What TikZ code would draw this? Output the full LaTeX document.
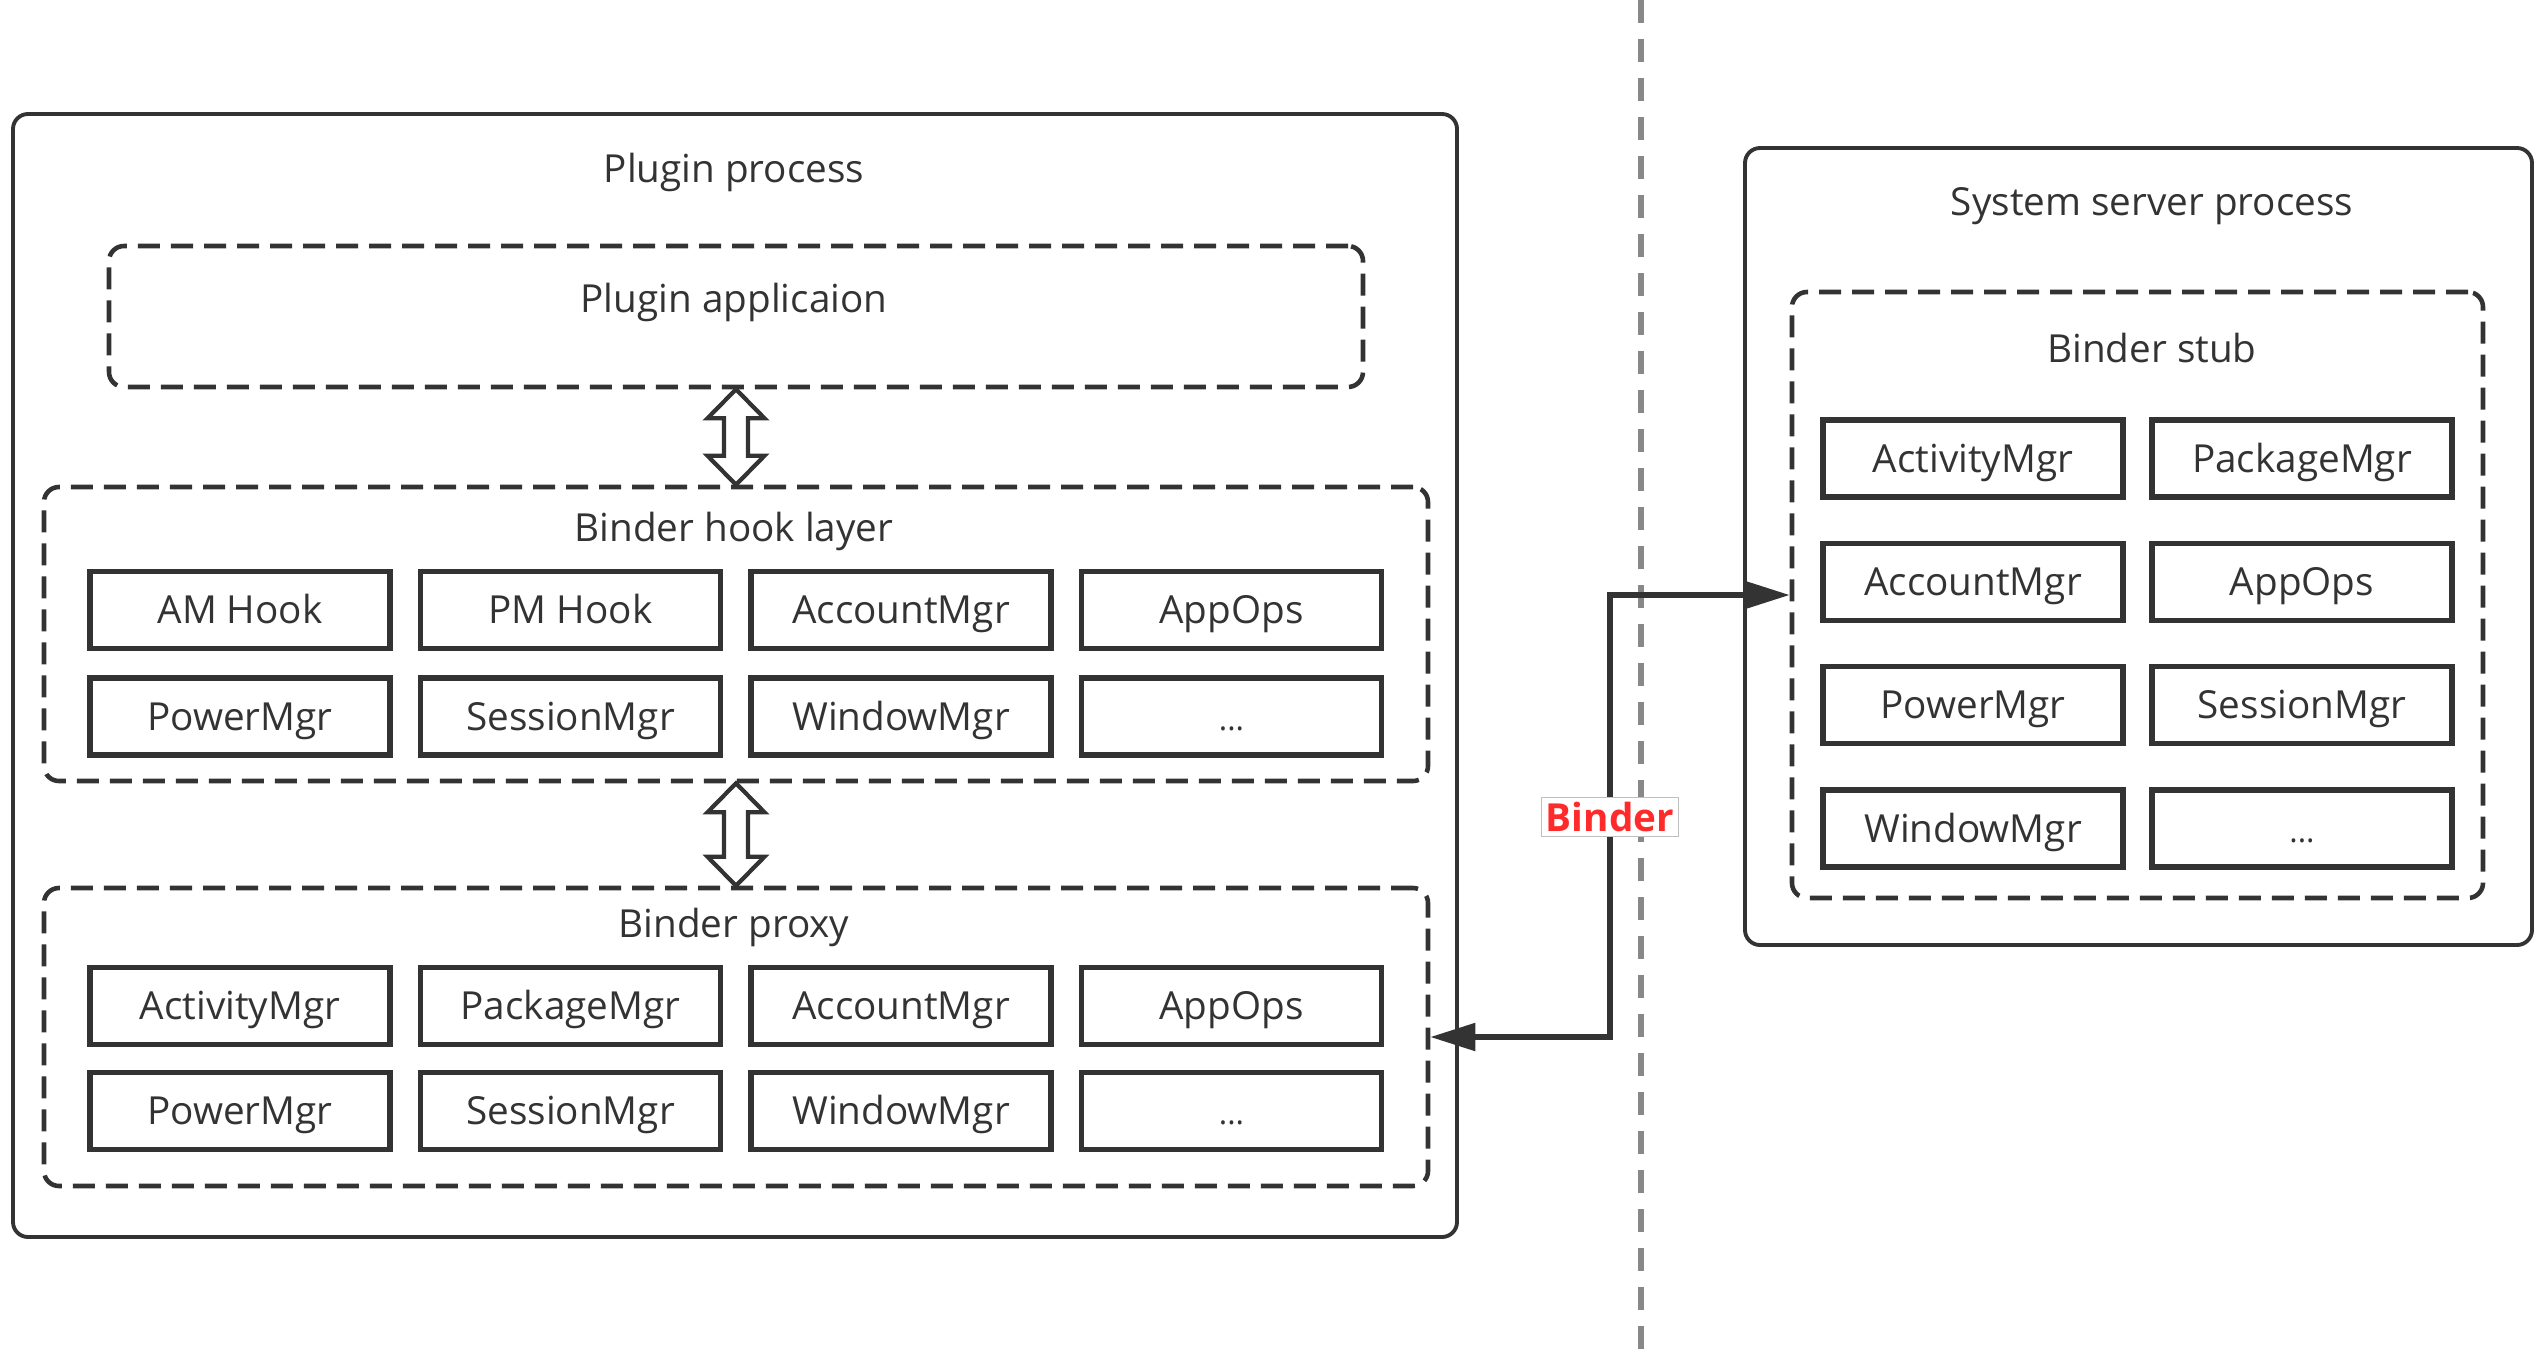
\documentclass[tikz,border=0pt]{standalone}
\usepackage{fontspec}
\setmainfont{Open Sans}
\usepackage{tikz}
\usetikzlibrary{arrows.meta,calc}

\definecolor{linegray}{HTML}{333333}
\definecolor{divgray}{HTML}{888888}
\definecolor{binderred}{HTML}{FF2B2B}
\newcommand{\moredots}{{\small...}}

\begin{document}
\begin{tikzpicture}[
  every node/.style={text=linegray, font=\fontsize{11}{13}\selectfont},
  proc/.style={draw=linegray, line width=1.1pt, rounded corners=1.5mm, inner sep=0pt},
  layer/.style={draw=linegray, line width=1.3pt, dash pattern=on 0.22cm off 0.11cm, rounded corners=1.5mm, inner sep=0pt},
  mgr/.style={draw=linegray, line width=1.5pt, minimum width=3.0cm, minimum height=0.77cm, inner sep=0pt,
    text height=1.75ex, text depth=0.3ex},
  hollow/.style={draw=linegray, line width=1.2pt, fill=white, line join=miter},
  conn/.style={draw=linegray, line width=1.5pt, {Triangle[length=0.45cm,width=0.27cm]}-{Triangle[length=0.45cm,width=0.27cm]}},
  divider/.style={draw=divgray, line width=1.6pt, dash pattern=on 0.23cm off 0.16cm}
]
\useasboundingbox (0,0) rectangle (25.45,-13.56);

% dividing line between the two processes
\draw[divider] (16.41,0) -- (16.41,-13.56);

% plugin process
\node[proc, minimum width=14.44cm, minimum height=11.23cm] (plugproc) at (7.35,-6.755) {};
\node (plugtitle) at (7.34,-1.72) {Plugin process};

\node[layer, minimum width=12.54cm, minimum height=1.41cm] (app) at (7.36,-3.165) {};
\node (apptitle) at (7.34,-3.02) {Plugin applicaion};

\node[layer, minimum width=13.84cm, minimum height=2.94cm] (hook) at (7.36,-6.34) {};
\node (hooktitle) at (7.34,-5.31) {Binder hook layer};
\foreach \lbl [count=\i from 0] in {AM Hook, PM Hook, AccountMgr, AppOps, PowerMgr, SessionMgr, WindowMgr, \moredots}
  \node[mgr] (hk\i) at ({2.40+3.305*mod(\i,4)}, {-6.10-1.065*int(\i/4)}) {\lbl};

\node[layer, minimum width=13.84cm, minimum height=2.98cm] (proxy) at (7.36,-10.37) {};
\node (proxytitle) at (7.34,-9.27) {Binder proxy};
\foreach \lbl [count=\i from 0] in {ActivityMgr, PackageMgr, AccountMgr, AppOps, PowerMgr, SessionMgr, WindowMgr, \moredots}
  \node[mgr] (px\i) at ({2.40+3.305*mod(\i,4)}, {-10.06-1.05*int(\i/4)}) {\lbl};

% hollow double arrows between layers
\draw[hollow] (app.south) -- ++(0.285,-0.29) -- ++(-0.165,0) -- ($(hook.north)+(0.12,0.29)$) -- ++(0.165,0)
  -- (hook.north) -- ++(-0.285,0.29) -- ++(0.165,0) -- ($(app.south)+(-0.12,-0.29)$) -- ++(-0.165,0) -- cycle;
\draw[hollow] (hook.south) -- ++(0.285,-0.29) -- ++(-0.165,0) -- ($(proxy.north)+(0.12,0.29)$) -- ++(0.165,0)
  -- (proxy.north) -- ++(-0.285,0.29) -- ++(0.165,0) -- ($(hook.south)+(-0.12,-0.29)$) -- ++(-0.165,0) -- cycle;

% system server process
\node[proc, minimum width=7.87cm, minimum height=7.97cm] (sysproc) at (21.385,-5.465) {};
\node (systitle) at (21.52,-2.06) {System server process};

\node[layer, minimum width=6.91cm, minimum height=6.06cm] (stub) at (21.375,-5.95) {};
\node (stubtitle) at (21.52,-3.48) {Binder stub};
\foreach \lbl [count=\i from 0] in {ActivityMgr, PackageMgr, AccountMgr, AppOps, PowerMgr, SessionMgr, WindowMgr, \moredots}
  \node[mgr] (st\i) at ({19.73+3.29*mod(\i,2)}, {-4.585-1.233*int(\i/2)}) {\lbl};

% binder call
\coordinate (bend) at (16.10,-8.17);
\draw[conn] (proxy.east) -| (bend) |- (stub.west);
\node[draw=black!25, line width=0.4pt, fill=white, inner sep=1.3pt, text=binderred, font=\fontsize{11}{13}\selectfont\bfseries] (binder) at (bend) {Binder};
\end{tikzpicture}
\end{document}
